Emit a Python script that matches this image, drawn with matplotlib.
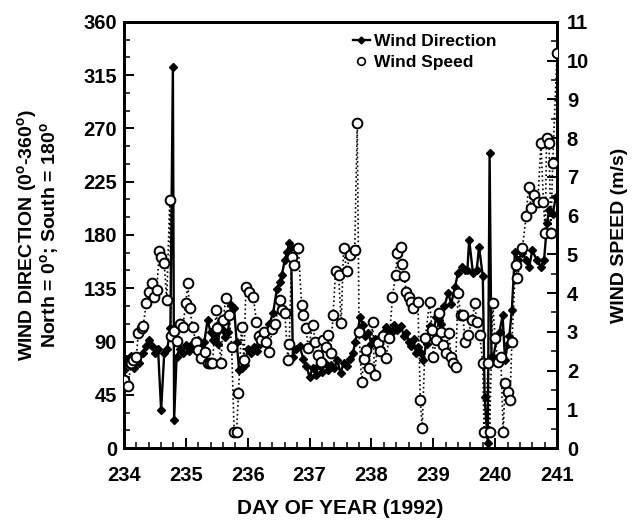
import numpy as np
import matplotlib.pyplot as plt
from matplotlib.lines import Line2D
from matplotlib.ticker import MultipleLocator

plt.rcParams['font.family'] = ['Liberation Sans', 'DejaVu Sans']
plt.rcParams['font.weight'] = 'bold'
plt.rcParams['mathtext.fontset'] = 'custom'
plt.rcParams['mathtext.rm'] = 'Liberation Sans:bold'
plt.rcParams['mathtext.bf'] = 'Liberation Sans:bold'

# wind speed (m/s)
speed_day = [234.00, 234.06, 234.12, 234.15, 234.20, 234.23, 234.29, 234.31, 234.36, 234.41,
             234.45, 234.49, 234.53, 234.57, 234.60, 234.65, 234.69, 234.74, 234.76, 234.81,
             234.86, 234.90, 234.95, 235.00, 235.03, 235.06, 235.11, 235.16, 235.20, 235.25,
             235.31, 235.35, 235.39, 235.43, 235.49, 235.51, 235.57, 235.60, 235.65, 235.70,
             235.74, 235.78, 235.82, 235.85, 235.90, 235.94, 235.97, 236.02, 236.09, 236.14,
             236.19, 236.22, 236.26, 236.30, 236.35, 236.39, 236.44, 236.52, 236.55, 236.60,
             236.65, 236.67, 236.71, 236.75, 236.82, 236.87, 236.90, 236.94, 236.98, 237.05,
             237.09, 237.13, 237.18, 237.22, 237.26, 237.30, 237.34, 237.38, 237.42, 237.47,
             237.51, 237.55, 237.60, 237.65, 237.73, 237.77, 237.80, 237.84, 237.88, 237.91,
             237.96, 238.02, 238.05, 238.10, 238.14, 238.18, 238.23, 238.29, 238.34, 238.39,
             238.42, 238.47, 238.50, 238.53, 238.56, 238.60, 238.64, 238.67, 238.75, 238.79,
             238.82, 238.87, 238.94, 238.98, 239.00, 239.05, 239.09, 239.12, 239.16, 239.20,
             239.25, 239.29, 239.32, 239.36, 239.40, 239.44, 239.48, 239.51, 239.56, 239.63,
             239.67, 239.70, 239.75, 239.80, 239.82, 239.89, 239.91, 239.96, 240.00, 240.04,
             240.09, 240.13, 240.16, 240.20, 240.24, 240.27, 240.33, 240.36, 240.44, 240.50,
             240.54, 240.58, 240.63, 240.69, 240.74, 240.78, 240.81, 240.83, 240.87, 240.90,
             240.93, 241.00]
speed = [1.76, 1.61, 2.20, 2.27, 2.35, 2.97, 3.10, 3.15, 3.75, 4.04,
         4.26, 3.91, 4.08, 5.09, 4.93, 4.78, 3.82, 6.41, 2.88, 3.03,
         2.76, 3.20, 3.13, 3.75, 4.26, 3.62, 3.12, 2.75, 2.53, 2.32,
         2.49, 2.19, 2.19, 2.19, 3.57, 3.10, 2.20, 3.31, 3.88, 3.44,
         2.62, 0.41, 0.41, 1.41, 3.13, 2.27, 4.17, 4.04, 3.91, 3.26,
         2.90, 2.79, 3.00, 2.75, 2.49, 3.07, 3.20, 3.82, 3.57, 3.48,
         2.27, 2.69, 4.94, 4.73, 5.16, 3.70, 3.44, 3.10, 2.58, 3.18,
         2.75, 2.40, 2.23, 2.79, 2.60, 2.92, 2.45, 3.44, 4.56, 4.47,
         3.22, 5.16, 4.56, 4.99, 5.12, 8.39, 3.00, 1.71, 2.30, 2.53,
         2.06, 3.26, 1.89, 2.71, 2.50, 2.88, 2.32, 2.83, 3.91, 4.47,
         5.03, 5.20, 4.75, 4.43, 4.04, 3.90, 3.78, 3.61, 3.78, 1.24,
         0.51, 2.83, 3.78, 3.05, 2.36, 2.80, 3.48, 3.00, 2.66, 2.45,
         2.96, 2.36, 2.19, 2.10, 4.00, 3.44, 3.44, 2.75, 2.92, 3.31,
         3.74, 3.26, 2.92, 2.19, 0.42, 2.19, 0.42, 3.74, 2.83, 2.23,
         2.36, 0.42, 1.67, 1.45, 1.24, 2.75, 4.73, 4.38, 5.16, 5.98,
         6.75, 6.19, 6.54, 6.36, 7.87, 6.36, 5.55, 8.00, 7.87, 5.55,
         7.36, 10.20]

# wind direction (degrees)
dir_day = [234.00, 234.04, 234.08, 234.12, 234.16, 234.20, 234.25, 234.30, 234.35, 234.40,
           234.45, 234.50, 234.55, 234.60, 234.65, 234.70, 234.75, 234.79, 234.81, 234.85,
           234.90, 234.95, 235.00, 235.05, 235.10, 235.15, 235.20, 235.25, 235.30, 235.35,
           235.40, 235.44, 235.48, 235.52, 235.56, 235.60, 235.64, 235.68, 235.73, 235.78,
           235.82, 235.86, 235.90, 235.95, 236.00, 236.05, 236.10, 236.15, 236.20, 236.25,
           236.30, 236.35, 236.41, 236.47, 236.52, 236.55, 236.60, 236.64, 236.67, 236.70,
           236.73, 236.78, 236.84, 236.90, 236.95, 237.00, 237.05, 237.10, 237.15, 237.20,
           237.25, 237.30, 237.35, 237.40, 237.45, 237.50, 237.55, 237.60, 237.65, 237.70,
           237.74, 237.78, 237.82, 237.86, 237.90, 237.95, 238.00, 238.05, 238.10, 238.15,
           238.19, 238.24, 238.29, 238.34, 238.37, 238.42, 238.48, 238.52, 238.56, 238.60,
           238.64, 238.68, 238.72, 238.76, 238.80, 238.83, 238.89, 238.94, 239.00, 239.05,
           239.10, 239.13, 239.18, 239.24, 239.29, 239.35, 239.40, 239.46, 239.51, 239.55,
           239.58, 239.64, 239.70, 239.74, 239.80, 239.83, 239.88, 239.91, 239.94, 239.97,
           240.02, 240.07, 240.12, 240.16, 240.20, 240.23, 240.27, 240.32, 240.37, 240.44,
           240.50, 240.55, 240.60, 240.67, 240.74, 240.79, 240.84, 240.87, 240.93, 240.98]
direction = [66, 75, 70, 78, 68, 74, 72, 80, 86, 91,
             86, 80, 84, 32, 80, 84, 101, 322, 24, 77,
             84, 80, 87, 82, 88, 84, 91, 86, 90, 108,
             98, 91, 97, 88, 108, 100, 94, 98, 121, 118,
             90, 66, 68, 70, 84, 80, 85, 82, 88, 92,
             97, 105, 114, 134, 140, 146, 159, 166, 173, 170,
             77, 84, 86, 75, 69, 60, 68, 62, 70, 64,
             72, 66, 70, 68, 74, 63, 72, 69, 75, 80,
             90, 100, 111, 104, 95, 97, 88, 92, 85, 95,
             97, 102, 100, 98, 104, 100, 103, 95, 97, 90,
             86, 92, 80, 85, 80, 74, 88, 103, 98, 111,
             108, 105, 120, 131, 122, 136, 148, 153, 150, 150,
             176, 148, 150, 170, 145, 43, 4, 249, 77, 77,
             91, 98, 112, 74, 88, 95, 117, 166, 159, 165,
             159, 153, 167, 159, 153, 159, 190, 201, 198, 212]

fig = plt.figure(figsize=(6.34, 5.21), dpi=100)
ax = fig.add_axes([0.1956, 0.1401, 0.683, 0.8177])
ax2 = ax.twinx()

ax.plot(dir_day, direction, '-', color='black', lw=1.7,
        marker='D', ms=3.8, mfc='black', mec='black', zorder=3)
ax2.plot(speed_day, speed, ':', color='black', lw=1.2,
         marker='o', ms=7, mfc='white', mec='black', mew=1.4, zorder=4)

ax.set_xlim(234, 241)
ax.set_ylim(0, 360)
ax2.set_ylim(0, 11)
ax.xaxis.set_major_locator(MultipleLocator(1))
ax.xaxis.set_minor_locator(MultipleLocator(0.2))
ax.yaxis.set_major_locator(MultipleLocator(45))
ax.yaxis.set_minor_locator(MultipleLocator(15))
ax2.yaxis.set_major_locator(MultipleLocator(1))
ax2.yaxis.set_minor_locator(MultipleLocator(0.5))

for a in (ax, ax2):
    a.tick_params(which='major', direction='in', length=7, width=1.4, labelsize=14.5)
    a.tick_params(which='minor', direction='in', length=4, width=1.1)
    for s in a.spines.values():
        s.set_linewidth(2.0)
ax.tick_params(axis='x', pad=13)
ax.tick_params(axis='y', pad=5)
ax2.tick_params(axis='y', pad=7)

ax.set_xlabel('DAY OF YEAR (1992)', fontsize=15, fontweight='bold', labelpad=10)
ax.set_ylabel('WIND DIRECTION (0$^{\\mathrm{o}}$-360$^{\\mathrm{o}}$)\n'
              'North = 0$^{\\mathrm{o}}$; South = 180$^{\\mathrm{o}}$',
              fontsize=14, fontweight='bold', labelpad=15, linespacing=0.95)
ax2.set_ylabel('WIND SPEED (m/s)', fontsize=14, fontweight='bold', labelpad=16)

h1 = Line2D([], [], color='black', lw=1.7, marker='D', ms=3.5)
h2 = Line2D([], [], ls='none', marker='o', ms=5.5, mfc='white', mec='black', mew=1.2)
ax2.legend([h1, h2], ['Wind Direction', 'Wind Speed'], loc='upper left',
           bbox_to_anchor=(0.5, 1.0), frameon=False, handlelength=1.0,
           handletextpad=0.25, labelspacing=0.3, borderaxespad=0.3,
           prop={'weight': 'bold', 'size': 12.5})

fig.savefig('out.png', dpi=100)
